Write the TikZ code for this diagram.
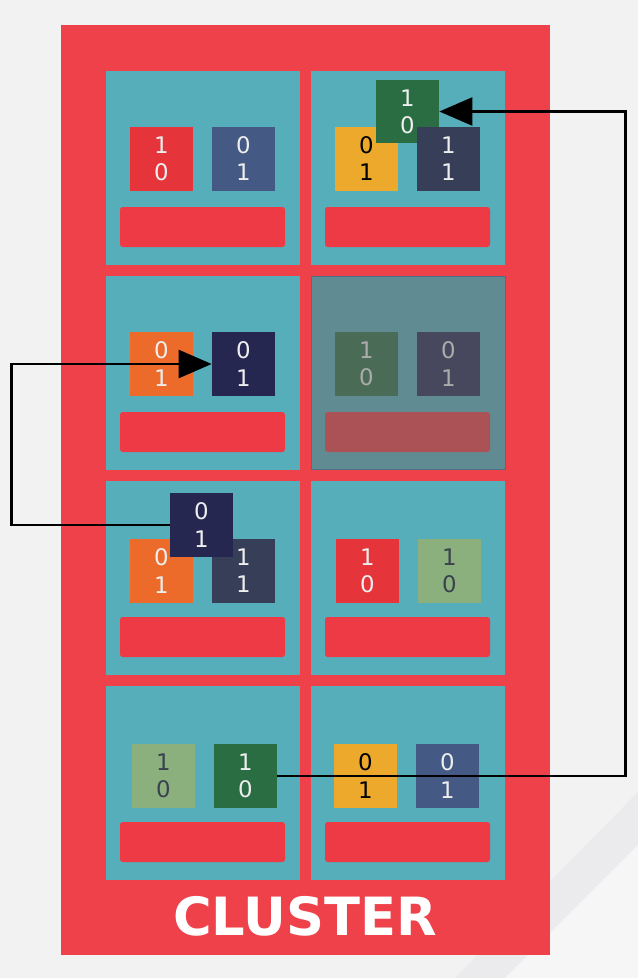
\documentclass[tikz,border=0pt]{standalone}
\usepackage{fontspec}
\setmainfont{DejaVu Sans}
\usetikzlibrary{arrows.meta}
\definecolor{bggray}{HTML}{F2F2F2}
\definecolor{bandgray}{HTML}{EBEBED}
\definecolor{lightband}{HTML}{F6F6F6}
\definecolor{clred}{HTML}{EF414A}
\definecolor{barred}{HTML}{EE3A45}
\definecolor{teal}{HTML}{56AEBB}
\definecolor{sqred}{HTML}{E5343A}
\definecolor{steel}{HTML}{445A85}
\definecolor{yell}{HTML}{EDA92B}
\definecolor{slate}{HTML}{363F57}
\definecolor{dgreen}{HTML}{2B6D43}
\definecolor{orng}{HTML}{EC6A2A}
\definecolor{navy}{HTML}{252751}
\definecolor{sage}{HTML}{8CB07D}
\definecolor{sagetext}{HTML}{39424E}
\definecolor{offwhite}{HTML}{EEEEEE}
\definecolor{dimgray}{HTML}{6A6A6A}
\definecolor{dimborder}{HTML}{4C6E86}
\begin{document}
\begin{tikzpicture}[x=0.02cm,y=-0.02cm,
  bit/.style={rectangle,draw=none,minimum width=1.26cm,minimum height=1.28cm,inner sep=0pt,align=center,
    font=\fontsize{13}{15.5}\selectfont,text=offwhite},
  blk/.style={bit,text=black},
  sg/.style={bit,fill=sage,text=sagetext},
  link/.style={draw=black,line width=1.4pt,-{Triangle[length=0.66cm,width=0.56cm]}}
]
\useasboundingbox (0,0) rectangle (638,978);
\fill[bggray] (0,0) rectangle (638,978);
\fill[bandgray] (455,978) -- (638,792) -- (638,845) -- (505,978) -- cycle;
\fill[lightband] (505,978) -- (638,845) -- (638,978) -- cycle;
% cluster
\fill[clred] (61,25) rectangle (550,955);
\node[anchor=base,text=white,font=\fontsize{30}{36}\bfseries\selectfont,inner sep=0pt] (title) at (305,935) {CLUSTER};
% cells
\foreach \cx in {106,311}{
  \foreach \cy in {71,276,481,686}{
    \fill[teal] (\cx,\cy) rectangle ++(194,194);
    \fill[barred,rounded corners=1.5pt] (\cx+14,\cy+136) rectangle ++(165,40);
  }
}
% row 1
\node[bit,fill=sqred] (a1) at (161.5,158.5) {1\\0};
\node[bit,fill=steel] (a2) at (243.5,158.5) {0\\1};
\node[blk,fill=yell] (b1) at (366.5,158.5) {0\\1};
\node[bit,fill=dgreen] (bt) at (407.5,111.5) {1\\0};
\node[bit,fill=slate] (b2) at (448.5,158.5) {1\\1};
% row 2
\node[bit,fill=orng] (c1) at (161.5,364) {0\\1};
\node[bit,fill=navy] (c2) at (243.5,364) {0\\1};
\node[bit,fill=dgreen] (d1) at (366.5,364) {1\\0};
\node[bit,fill=navy] (d2) at (448.5,364) {0\\1};
\fill[dimgray,fill opacity=0.5] (311,276) rectangle ++(194,193);
\draw[dimborder,line width=0.5pt] (311,276) rectangle ++(194,193);
% row 3
\node[bit,fill=orng] (e1) at (161.5,571) {0\\1};
\node[bit,fill=slate] (e2) at (243.5,571) {1\\1};
\node[bit,fill=navy] (et) at (201.5,525) {0\\1};
\node[bit,fill=sqred] (f1) at (367.5,571) {1\\0};
\node[sg] (f2) at (449.5,571) {1\\0};
% row 4
\node[sg] (g1) at (163.5,776) {1\\0};
\node[bit,fill=dgreen] (g2) at (245.5,776) {1\\0};
\node[blk,fill=yell] (h1) at (365.5,776) {0\\1};
\node[bit,fill=steel] (h2) at (447.5,776) {0\\1};
% connectors
\draw[link] (g2.east) -- ++(348,0) |- (bt.east);
\draw[link] (et.west) -- ++(-158,0) |- (c2.west);
\end{tikzpicture}
\end{document}
